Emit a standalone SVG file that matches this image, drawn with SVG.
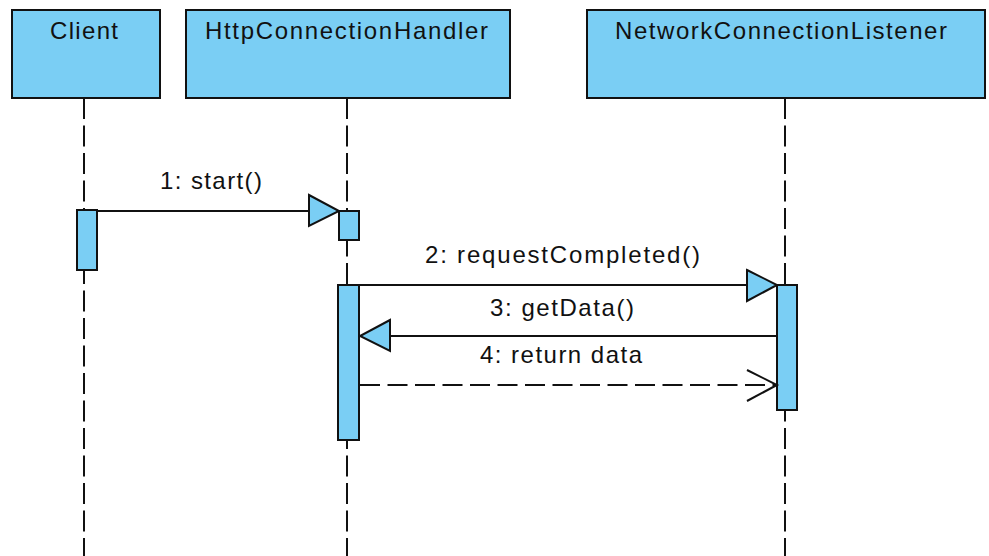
<svg xmlns="http://www.w3.org/2000/svg" width="989" height="556" viewBox="0 0 989 556">
  <style>
    .box { fill: #7ACEF4; stroke: #111; stroke-width: 2; }
    .act { fill: #7ACEF4; stroke: #111; stroke-width: 2; }
    .life { stroke: #111; stroke-width: 2; stroke-dasharray: 21 6.5; fill: none; }
    .msg { stroke: #111; stroke-width: 2; fill: none; }
    .ret { stroke: #111; stroke-width: 2; fill: none; stroke-dasharray: 20 7.5; }
    .head { fill: #7ACEF4; stroke: #111; stroke-width: 2; stroke-linejoin: miter; }
    .open { fill: none; stroke: #111; stroke-width: 2; }
    text { font-family: "Liberation Sans", Arial, sans-serif; font-size: 24px; fill: #111; }
  </style>

  <!-- lifelines -->
  <g id="lifelines">
    <line class="life" x1="84" y1="98" x2="84" y2="556"/>
    <line class="life" x1="347" y1="98" x2="347" y2="556"/>
    <line class="life" x1="785" y1="98" x2="785" y2="556"/>
  </g>

  <!-- participants -->
  <g id="client">
    <rect class="box" x="12" y="10" width="148" height="88"/>
    <text x="50" y="39" textLength="68" lengthAdjust="spacing">Client</text>
    <rect class="act" x="77" y="210" width="20" height="60"/>
  </g>
  <g id="handler">
    <rect class="box" x="186" y="10" width="324" height="88"/>
    <text x="205" y="39" textLength="283" lengthAdjust="spacing">HttpConnectionHandler</text>
    <rect class="act" x="339" y="211" width="20" height="29"/>
    <rect class="act" x="338" y="285" width="21" height="155"/>
  </g>
  <g id="listener">
    <rect class="box" x="587" y="10" width="398" height="88"/>
    <text x="615" y="39" textLength="332" lengthAdjust="spacing">NetworkConnectionListener</text>
    <rect class="act" x="777" y="285" width="20" height="125"/>
  </g>

  <!-- messages -->
  <g id="connectors">
    <line class="msg" x1="97" y1="211" x2="310" y2="211"/>
    <polygon class="head" points="309,195 339,211 309,226"/>
    <text x="160" y="189" textLength="102" lengthAdjust="spacing">1: start()</text>

    <line class="msg" x1="359" y1="285" x2="748" y2="285"/>
    <polygon class="head" points="747,270 777,285 747,301"/>
    <text x="425" y="263" textLength="275" lengthAdjust="spacing">2: requestCompleted()</text>

    <line class="msg" x1="777" y1="336" x2="389" y2="336"/>
    <polygon class="head" points="390,320 360,336 390,351"/>
    <text x="490" y="316" textLength="144" lengthAdjust="spacing">3: getData()</text>

    <line class="ret" x1="360" y1="385" x2="775" y2="385"/>
    <polyline class="open" points="747,370 777,385 747,401"/>
    <text x="480" y="363" textLength="162" lengthAdjust="spacing">4: return data</text>
  </g>
</svg>
